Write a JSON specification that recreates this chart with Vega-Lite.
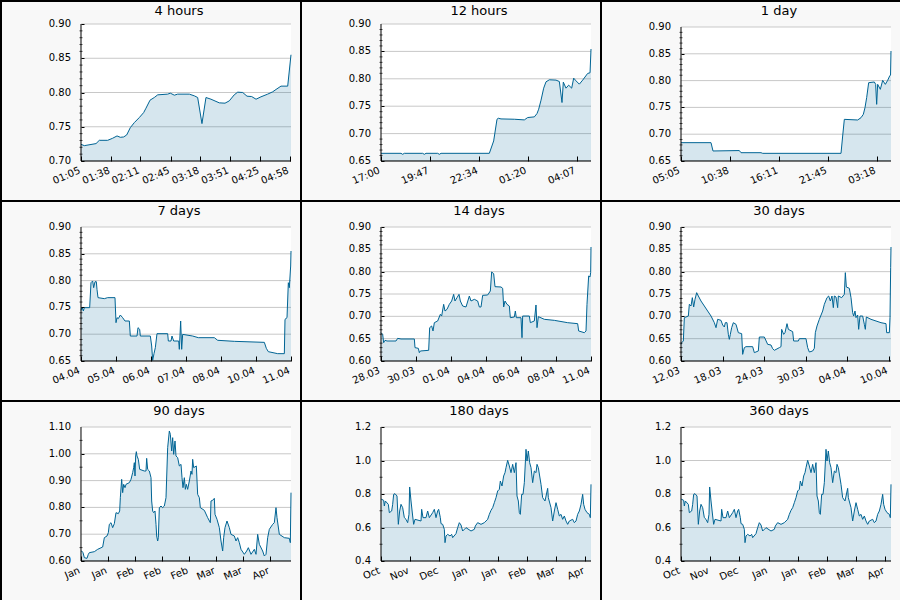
{
"$schema": "https://vega.github.io/schema/vega-lite/v6.json",
"background": "#f8f8f8",
"padding": 0,
"columns": 3,
"spacing": 0,
"bounds": "flush",
"config": {
  "font": "DejaVu Sans",
  "view": {"stroke": "black", "strokeWidth": 2, "fill": "#f8f8f8"},
  "axis": {"domain": false, "grid": false, "tickColor": "black", "tickWidth": 1, "labelFont": "DejaVu Sans", "labelFontSize": 10, "labelColor": "black", "labelOverlap": false, "labelFlush": false, "labelBound": false},
  "axisX": {"offset": -40, "tickSize": -5, "labelAngle": -23, "labelAlign": "right", "labelBaseline": "top", "labelPadding": 9},
  "axisY": {"offset": -80, "tickSize": -3, "labels": false},
  "tick": {"orient": "horizontal", "size": 3, "thickness": 1, "color": "black", "xOffset": 1.5},
  "text": {"align": "right", "baseline": "middle", "dx": -10, "fontSize": 10, "font": "DejaVu Sans", "color": "black"},
  "rule": {"stroke": "#c8c8c8"},
  "title": {"font": "DejaVu Sans", "fontSize": 13, "fontWeight": "normal", "color": "black", "anchor": "middle", "frame": "group", "offset": -17, "baseline": "alphabetic", "dx": 28}
},
"datasets": {
  "p1": [{"t":-240,"v":0.7244},{"t":-236.3,"v":0.7224},{"t":-223.2,"v":0.7254},{"t":-219.5,"v":0.7302},{"t":-210.2,"v":0.7302},{"t":-204.6,"v":0.7332},{"t":-199.7,"v":0.7366},{"t":-196.0,"v":0.7346},{"t":-192.3,"v":0.7351},{"t":-188.9,"v":0.738},{"t":-184.8,"v":0.7488},{"t":-180.3,"v":0.7561},{"t":-174.8,"v":0.7634},{"t":-169.9,"v":0.7707},{"t":-167.3,"v":0.7771},{"t":-162.8,"v":0.7888},{"t":-158.0,"v":0.7927},{"t":-154.2,"v":0.7966},{"t":-143.1,"v":0.7976},{"t":-140.1,"v":0.799},{"t":-135.6,"v":0.7961},{"t":-131.9,"v":0.7976},{"t":-118.8,"v":0.7976},{"t":-113.2,"v":0.7951},{"t":-109.5,"v":0.7927},{"t":-104.7,"v":0.7546},{"t":-100.2,"v":0.7927},{"t":-94.6,"v":0.7902},{"t":-85.3,"v":0.7849},{"t":-78.9,"v":0.7844},{"t":-74.1,"v":0.7878},{"t":-68.6,"v":0.7966},{"t":-64.7,"v":0.8005},{"t":-59.1,"v":0.8},{"t":-54.3,"v":0.7946},{"t":-49.1,"v":0.7941},{"t":-44.2,"v":0.7902},{"t":-38.7,"v":0.7937},{"t":-31.2,"v":0.7976},{"t":-25.6,"v":0.801},{"t":-21.9,"v":0.8044},{"t":-16.3,"v":0.8093},{"t":-8.8,"v":0.8093},{"t":-5.1,"v":0.8551}],
  "p2": [{"t":-724.5,"v":0.664},{"t":-656.3,"v":0.664},{"t":-650.6,"v":0.6622},{"t":-644.9,"v":0.664},{"t":-582.4,"v":0.664},{"t":-576.7,"v":0.6622},{"t":-571.0,"v":0.664},{"t":-531.2,"v":0.664},{"t":-525.5,"v":0.6622},{"t":-519.8,"v":0.664},{"t":-355.0,"v":0.664},{"t":-340.2,"v":0.6866},{"t":-328.8,"v":0.7262},{"t":-324.3,"v":0.728},{"t":-315.2,"v":0.7268},{"t":-269.7,"v":0.7262},{"t":-235.6,"v":0.725},{"t":-224.2,"v":0.7293},{"t":-201.5,"v":0.7305},{"t":-192.4,"v":0.7366},{"t":-186.7,"v":0.7445},{"t":-178.7,"v":0.761},{"t":-169.6,"v":0.7829},{"t":-161.7,"v":0.7945},{"t":-150.3,"v":0.7982},{"t":-127.6,"v":0.7976},{"t":-116.2,"v":0.7951},{"t":-107.1,"v":0.7567},{"t":-102.6,"v":0.7939},{"t":-93.5,"v":0.7829},{"t":-84.4,"v":0.7884},{"t":-74.1,"v":0.7829},{"t":-67.3,"v":0.8012},{"t":-59.4,"v":0.7963},{"t":-48.0,"v":0.7902},{"t":-36.6,"v":0.7976},{"t":-19.6,"v":0.8098},{"t":-11.5,"v":0.811},{"t":-8.2,"v":0.8543}],
  "p3": [{"t":-1440,"v":0.6842},{"t":-1235.7,"v":0.6842},{"t":-1222.1,"v":0.6687},{"t":-1042.8,"v":0.6695},{"t":-1031.4,"v":0.6655},{"t":-895.2,"v":0.6655},{"t":-883.8,"v":0.6643},{"t":-350.4,"v":0.6643},{"t":-339.1,"v":0.6966},{"t":-327.7,"v":0.7277},{"t":-236.9,"v":0.7265},{"t":-214.2,"v":0.7308},{"t":-198.3,"v":0.7371},{"t":-187.0,"v":0.7495},{"t":-175.6,"v":0.7682},{"t":-162.0,"v":0.7961},{"t":-123.4,"v":0.7974},{"t":-114.3,"v":0.793},{"t":-107.5,"v":0.7557},{"t":-100.7,"v":0.793},{"t":-82.5,"v":0.7837},{"t":-66.6,"v":0.8005},{"t":-48.5,"v":0.793},{"t":-32.6,"v":0.8005},{"t":-19.0,"v":0.8086},{"t":-13.0,"v":0.8104},{"t":-10,"v":0.8552}],
  "p4": [{"t":-7,"v":0.7445},{"t":-6.967,"v":0.7507},{"t":-6.922,"v":0.7433},{"t":-6.889,"v":0.7495},{"t":-6.711,"v":0.7495},{"t":-6.667,"v":0.7961},{"t":-6.611,"v":0.7993},{"t":-6.578,"v":0.7868},{"t":-6.533,"v":0.798},{"t":-6.489,"v":0.798},{"t":-6.467,"v":0.7837},{"t":-6.433,"v":0.7682},{"t":-6.222,"v":0.7663},{"t":-6.111,"v":0.7682},{"t":-5.867,"v":0.7682},{"t":-5.833,"v":0.7215},{"t":-5.8,"v":0.7308},{"t":-5.756,"v":0.729},{"t":-5.689,"v":0.7358},{"t":-5.611,"v":0.7308},{"t":-5.533,"v":0.7246},{"t":-5.389,"v":0.7246},{"t":-5.356,"v":0.6966},{"t":-5.133,"v":0.6966},{"t":-5.1,"v":0.7122},{"t":-5.044,"v":0.7091},{"t":-5.022,"v":0.6966},{"t":-4.689,"v":0.6966},{"t":-4.644,"v":0.678},{"t":-4.611,"v":0.6512},{"t":-4.567,"v":0.6637},{"t":-4.522,"v":0.6749},{"t":-4.467,"v":0.701},{"t":-4.111,"v":0.701},{"t":-4.089,"v":0.6873},{"t":-4.0,"v":0.6873},{"t":-3.967,"v":0.6966},{"t":-3.911,"v":0.6873},{"t":-3.744,"v":0.6873},{"t":-3.722,"v":0.6718},{"t":-3.678,"v":0.7246},{"t":-3.644,"v":0.6718},{"t":-3.611,"v":0.6997},{"t":-3.278,"v":0.6966},{"t":-3.089,"v":0.6935},{"t":-2.556,"v":0.6935},{"t":-2.444,"v":0.6886},{"t":-1.889,"v":0.6867},{"t":-0.889,"v":0.6848},{"t":-0.822,"v":0.6736},{"t":-0.756,"v":0.6674},{"t":-0.444,"v":0.6637},{"t":-0.222,"v":0.6637},{"t":-0.2,"v":0.7277},{"t":-0.133,"v":0.7308},{"t":-0.089,"v":0.7961},{"t":-0.056,"v":0.7868},{"t":-0.011,"v":0.8272},{"t":0,"v":0.8552}],
  "p5": [{"t":-14,"v":0.6634},{"t":-13.889,"v":0.6597},{"t":-13.822,"v":0.641},{"t":-13.733,"v":0.6463},{"t":-13.6,"v":0.6448},{"t":-13.0,"v":0.6448},{"t":-12.889,"v":0.6507},{"t":-12.667,"v":0.6493},{"t":-11.778,"v":0.6493},{"t":-11.733,"v":0.6299},{"t":-11.511,"v":0.6284},{"t":-11.444,"v":0.6187},{"t":-11.378,"v":0.6224},{"t":-10.822,"v":0.6239},{"t":-10.756,"v":0.6746},{"t":-10.622,"v":0.6784},{"t":-10.533,"v":0.6672},{"t":-10.444,"v":0.6858},{"t":-10.222,"v":0.6896},{"t":-10.044,"v":0.7045},{"t":-9.956,"v":0.7007},{"t":-9.822,"v":0.7269},{"t":-9.733,"v":0.7119},{"t":-9.6,"v":0.7157},{"t":-9.444,"v":0.7269},{"t":-9.289,"v":0.7343},{"t":-9.156,"v":0.7493},{"t":-9.067,"v":0.7343},{"t":-8.933,"v":0.7418},{"t":-8.8,"v":0.7493},{"t":-8.711,"v":0.7343},{"t":-8.556,"v":0.7231},{"t":-8.333,"v":0.7209},{"t":-8.111,"v":0.7455},{"t":-8.0,"v":0.7343},{"t":-7.778,"v":0.7381},{"t":-7.556,"v":0.7343},{"t":-7.444,"v":0.7209},{"t":-7.333,"v":0.7209},{"t":-7.222,"v":0.747},{"t":-6.889,"v":0.7478},{"t":-6.711,"v":0.7567},{"t":-6.622,"v":0.7993},{"t":-6.489,"v":0.7955},{"t":-6.4,"v":0.7664},{"t":-6.0,"v":0.7657},{"t":-5.889,"v":0.7627},{"t":-5.822,"v":0.7209},{"t":-5.733,"v":0.7343},{"t":-5.6,"v":0.7269},{"t":-5.444,"v":0.7231},{"t":-5.378,"v":0.697},{"t":-5.111,"v":0.6985},{"t":-5.044,"v":0.7119},{"t":-4.978,"v":0.697},{"t":-4.667,"v":0.697},{"t":-4.6,"v":0.6522},{"t":-4.556,"v":0.7007},{"t":-4.111,"v":0.7007},{"t":-4.044,"v":0.6858},{"t":-3.778,"v":0.6896},{"t":-3.667,"v":0.7254},{"t":-3.6,"v":0.6746},{"t":-3.511,"v":0.6993},{"t":-3.111,"v":0.6933},{"t":-2.444,"v":0.691},{"t":-1.556,"v":0.6858},{"t":-0.889,"v":0.6836},{"t":-0.822,"v":0.6672},{"t":-0.444,"v":0.6634},{"t":-0.333,"v":0.6672},{"t":-0.267,"v":0.7269},{"t":-0.156,"v":0.7903},{"t":-0.067,"v":0.7881},{"t":-0.022,"v":0.7978},{"t":0,"v":0.8552}],
  "p6": [{"t":-30,"v":0.6373},{"t":-29.905,"v":0.641},{"t":-29.667,"v":0.6448},{"t":-29.524,"v":0.697},{"t":-28.952,"v":0.7007},{"t":-28.81,"v":0.7269},{"t":-28.571,"v":0.7231},{"t":-28.381,"v":0.7418},{"t":-28.19,"v":0.7209},{"t":-28.0,"v":0.7381},{"t":-27.762,"v":0.753},{"t":-27.524,"v":0.7455},{"t":-27.143,"v":0.7343},{"t":-26.667,"v":0.7231},{"t":-26.19,"v":0.7119},{"t":-25.714,"v":0.7007},{"t":-25.238,"v":0.6858},{"t":-25.0,"v":0.6746},{"t":-24.762,"v":0.6933},{"t":-24.286,"v":0.691},{"t":-24.048,"v":0.6806},{"t":-23.81,"v":0.6761},{"t":-23.667,"v":0.6858},{"t":-23.429,"v":0.6858},{"t":-23.238,"v":0.6597},{"t":-23.095,"v":0.6485},{"t":-22.952,"v":0.6597},{"t":-22.762,"v":0.6746},{"t":-22.524,"v":0.6858},{"t":-22.143,"v":0.6821},{"t":-21.81,"v":0.6634},{"t":-21.333,"v":0.6612},{"t":-21.19,"v":0.6149},{"t":-20.952,"v":0.6299},{"t":-20.714,"v":0.6321},{"t":-19.762,"v":0.6321},{"t":-19.524,"v":0.6187},{"t":-18.952,"v":0.6224},{"t":-18.81,"v":0.6537},{"t":-18.095,"v":0.6537},{"t":-17.619,"v":0.6373},{"t":-17.143,"v":0.6358},{"t":-16.905,"v":0.6276},{"t":-16.667,"v":0.6239},{"t":-15.952,"v":0.6299},{"t":-15.714,"v":0.6321},{"t":-15.619,"v":0.6709},{"t":-15.333,"v":0.6597},{"t":-15.143,"v":0.6634},{"t":-14.857,"v":0.6836},{"t":-14.667,"v":0.6709},{"t":-14.048,"v":0.6657},{"t":-13.905,"v":0.6448},{"t":-13.238,"v":0.6448},{"t":-13.095,"v":0.65},{"t":-12.143,"v":0.65},{"t":-11.905,"v":0.6299},{"t":-11.667,"v":0.6201},{"t":-11.19,"v":0.6224},{"t":-10.952,"v":0.6284},{"t":-10.81,"v":0.6634},{"t":-10.571,"v":0.6784},{"t":-10.238,"v":0.6933},{"t":-9.762,"v":0.7119},{"t":-9.524,"v":0.7269},{"t":-9.143,"v":0.7418},{"t":-8.905,"v":0.7455},{"t":-8.667,"v":0.7343},{"t":-8.429,"v":0.7455},{"t":-8.238,"v":0.7194},{"t":-8.095,"v":0.7455},{"t":-7.857,"v":0.7433},{"t":-7.619,"v":0.7194},{"t":-7.524,"v":0.7455},{"t":-7.048,"v":0.7418},{"t":-6.667,"v":0.7493},{"t":-6.524,"v":0.7978},{"t":-6.381,"v":0.7657},{"t":-5.952,"v":0.7627},{"t":-5.714,"v":0.7418},{"t":-5.476,"v":0.7082},{"t":-5.333,"v":0.7007},{"t":-5.143,"v":0.7119},{"t":-5.0,"v":0.697},{"t":-4.762,"v":0.703},{"t":-4.619,"v":0.6709},{"t":-4.429,"v":0.7007},{"t":-4.048,"v":0.7007},{"t":-3.81,"v":0.6821},{"t":-3.667,"v":0.6709},{"t":-3.524,"v":0.6985},{"t":-2.857,"v":0.6933},{"t":-1.429,"v":0.6858},{"t":-0.714,"v":0.6836},{"t":-0.619,"v":0.6634},{"t":-0.238,"v":0.6634},{"t":-0.143,"v":0.697},{"t":-0.048,"v":0.809},{"t":0,"v":0.8552}],
  "p7": [{"t":-90,"v":0.6373},{"t":-89.714,"v":0.6373},{"t":-89.143,"v":0.6311},{"t":-88.571,"v":0.6124},{"t":-87.429,"v":0.6099},{"t":-86.857,"v":0.6249},{"t":-86.429,"v":0.6311},{"t":-84.286,"v":0.6348},{"t":-82.857,"v":0.6435},{"t":-80.714,"v":0.6522},{"t":-80.0,"v":0.6871},{"t":-78.857,"v":0.6933},{"t":-78.286,"v":0.7057},{"t":-77.857,"v":0.7368},{"t":-77.143,"v":0.743},{"t":-76.429,"v":0.7244},{"t":-75.714,"v":0.7393},{"t":-75.0,"v":0.7803},{"t":-74.0,"v":0.7766},{"t":-73.429,"v":0.7866},{"t":-73.143,"v":0.8363},{"t":-72.571,"v":0.9047},{"t":-72.143,"v":0.855},{"t":-71.714,"v":0.8861},{"t":-71.143,"v":0.8736},{"t":-70.714,"v":0.8861},{"t":-69.286,"v":0.8923},{"t":-68.571,"v":0.9047},{"t":-67.857,"v":0.9296},{"t":-67.429,"v":0.9483},{"t":-67.143,"v":0.9669},{"t":-66.857,"v":0.9172},{"t":-66.571,"v":0.9918},{"t":-66.286,"v":1.008},{"t":-66.0,"v":0.9918},{"t":-65.429,"v":0.9794},{"t":-64.857,"v":0.942},{"t":-62.857,"v":0.9358},{"t":-62.143,"v":0.9358},{"t":-61.857,"v":0.9831},{"t":-61.429,"v":0.942},{"t":-60.714,"v":0.9358},{"t":-60.0,"v":0.9109},{"t":-59.714,"v":0.8239},{"t":-59.286,"v":0.7866},{"t":-58.857,"v":0.7803},{"t":-58.286,"v":0.7866},{"t":-57.857,"v":0.7368},{"t":-57.571,"v":0.6933},{"t":-57.143,"v":0.6746},{"t":-56.857,"v":0.6871},{"t":-56.429,"v":0.799},{"t":-55.714,"v":0.8052},{"t":-55.0,"v":0.799},{"t":-54.286,"v":0.8052},{"t":-53.571,"v":0.8363},{"t":-52.857,"v":1.0229},{"t":-52.143,"v":1.0851},{"t":-51.714,"v":1.0726},{"t":-51.143,"v":1.0104},{"t":-50.714,"v":1.0602},{"t":-50.286,"v":0.998},{"t":-49.714,"v":1.0478},{"t":-49.286,"v":0.9918},{"t":-48.571,"v":0.9856},{"t":-47.857,"v":0.9545},{"t":-47.143,"v":0.9607},{"t":-46.714,"v":0.9109},{"t":-46.286,"v":0.8736},{"t":-45.714,"v":0.9109},{"t":-45.286,"v":0.8674},{"t":-44.857,"v":0.8861},{"t":-44.286,"v":0.8674},{"t":-43.571,"v":0.8985},{"t":-42.857,"v":0.9358},{"t":-42.429,"v":0.9234},{"t":-42.143,"v":0.9794},{"t":-41.714,"v":0.9483},{"t":-40.571,"v":0.9545},{"t":-40.0,"v":0.8487},{"t":-39.286,"v":0.8363},{"t":-38.857,"v":0.799},{"t":-37.143,"v":0.7891},{"t":-35.714,"v":0.7617},{"t":-34.571,"v":0.743},{"t":-34.286,"v":0.8239},{"t":-33.571,"v":0.8264},{"t":-32.857,"v":0.8338},{"t":-32.571,"v":0.7741},{"t":-31.714,"v":0.7555},{"t":-30.714,"v":0.7244},{"t":-30.0,"v":0.6746},{"t":-29.286,"v":0.6373},{"t":-28.857,"v":0.6871},{"t":-28.286,"v":0.7244},{"t":-27.429,"v":0.7492},{"t":-26.429,"v":0.7244},{"t":-25.714,"v":0.6995},{"t":-24.286,"v":0.6933},{"t":-23.571,"v":0.6746},{"t":-22.857,"v":0.6871},{"t":-22.143,"v":0.6684},{"t":-21.429,"v":0.6435},{"t":-20.0,"v":0.6249},{"t":-19.0,"v":0.6373},{"t":-18.286,"v":0.6497},{"t":-17.143,"v":0.6249},{"t":-15.714,"v":0.6435},{"t":-15.0,"v":0.6249},{"t":-14.286,"v":0.6995},{"t":-13.571,"v":0.6622},{"t":-12.143,"v":0.6373},{"t":-11.429,"v":0.6187},{"t":-10.714,"v":0.6249},{"t":-10.0,"v":0.6871},{"t":-9.286,"v":0.7182},{"t":-7.857,"v":0.7368},{"t":-7.143,"v":0.743},{"t":-6.429,"v":0.799},{"t":-6.0,"v":0.7617},{"t":-5.0,"v":0.6995},{"t":-2.857,"v":0.6871},{"t":-0.714,"v":0.6846},{"t":-0.286,"v":0.6684},{"t":0,"v":0.855}],
  "p8": [{"t":-165.9,"v":0.7682},{"t":-165.37,"v":0.7682},{"t":-163.79,"v":0.7622},{"t":-163.27,"v":0.7284},{"t":-162.48,"v":0.7582},{"t":-160.11,"v":0.7383},{"t":-159.32,"v":0.6886},{"t":-157.47,"v":0.6985},{"t":-156.68,"v":0.7383},{"t":-155.89,"v":0.798},{"t":-154.84,"v":0.802},{"t":-153.26,"v":0.7881},{"t":-152.21,"v":0.6189},{"t":-151.15,"v":0.6985},{"t":-150.1,"v":0.7383},{"t":-148.78,"v":0.7184},{"t":-147.47,"v":0.6587},{"t":-146.15,"v":0.6488},{"t":-144.83,"v":0.6289},{"t":-143.78,"v":0.6786},{"t":-143.25,"v":0.8418},{"t":-142.2,"v":0.7582},{"t":-140.88,"v":0.6687},{"t":-140.09,"v":0.6189},{"t":-139.04,"v":0.6488},{"t":-134.3,"v":0.6388},{"t":-133.77,"v":0.7085},{"t":-132.72,"v":0.6587},{"t":-130.35,"v":0.6587},{"t":-129.03,"v":0.6985},{"t":-127.71,"v":0.6587},{"t":-125.08,"v":0.6886},{"t":-123.76,"v":0.7085},{"t":-122.45,"v":0.6587},{"t":-121.13,"v":0.6985},{"t":-120.34,"v":0.7085},{"t":-119.03,"v":0.6587},{"t":-118.5,"v":0.6229},{"t":-117.18,"v":0.6189},{"t":-115.87,"v":0.5891},{"t":-115.34,"v":0.5095},{"t":-114.55,"v":0.5493},{"t":-113.23,"v":0.5592},{"t":-111.39,"v":0.5493},{"t":-110.07,"v":0.5592},{"t":-109.28,"v":0.5393},{"t":-106.65,"v":0.5632},{"t":-105.33,"v":0.599},{"t":-104.02,"v":0.6289},{"t":-102.7,"v":0.6149},{"t":-101.38,"v":0.5791},{"t":-98.75,"v":0.599},{"t":-94.8,"v":0.5791},{"t":-92.17,"v":0.5891},{"t":-91.38,"v":0.609},{"t":-89.54,"v":0.6289},{"t":-86.9,"v":0.6189},{"t":-84.27,"v":0.6289},{"t":-81.63,"v":0.6488},{"t":-80.32,"v":0.6786},{"t":-79.0,"v":0.7025},{"t":-77.68,"v":0.7184},{"t":-76.37,"v":0.7483},{"t":-75.05,"v":0.7781},{"t":-73.73,"v":0.8179},{"t":-72.42,"v":0.8279},{"t":-71.63,"v":0.8776},{"t":-70.31,"v":0.8478},{"t":-69.0,"v":0.9075},{"t":-67.94,"v":0.9274},{"t":-67.15,"v":0.9572},{"t":-65.84,"v":1.001},{"t":-64.52,"v":0.9672},{"t":-63.2,"v":0.9274},{"t":-61.89,"v":0.9771},{"t":-60.57,"v":0.9274},{"t":-59.25,"v":0.9871},{"t":-58.46,"v":0.7881},{"t":-57.41,"v":0.7582},{"t":-56.62,"v":0.6886},{"t":-55.83,"v":0.6786},{"t":-54.77,"v":0.798},{"t":-53.72,"v":0.798},{"t":-52.67,"v":0.8677},{"t":-51.35,"v":1.0667},{"t":-50.56,"v":0.997},{"t":-49.51,"v":1.0567},{"t":-48.46,"v":0.9871},{"t":-47.4,"v":0.9572},{"t":-46.09,"v":0.8677},{"t":-44.77,"v":0.9373},{"t":-43.45,"v":0.9274},{"t":-42.66,"v":0.9771},{"t":-41.61,"v":0.9572},{"t":-40.56,"v":0.9075},{"t":-39.5,"v":0.8577},{"t":-38.18,"v":0.7781},{"t":-36.34,"v":0.7582},{"t":-34.23,"v":0.8338},{"t":-33.71,"v":0.7781},{"t":-31.6,"v":0.7184},{"t":-30.29,"v":0.6388},{"t":-28.97,"v":0.6985},{"t":-27.65,"v":0.7483},{"t":-26.34,"v":0.7085},{"t":-25.02,"v":0.6687},{"t":-23.7,"v":0.6786},{"t":-22.39,"v":0.6488},{"t":-21.07,"v":0.6687},{"t":-19.75,"v":0.6388},{"t":-18.43,"v":0.6189},{"t":-17.12,"v":0.6388},{"t":-14.48,"v":0.6488},{"t":-13.17,"v":0.6289},{"t":-11.85,"v":0.6388},{"t":-10.53,"v":0.6786},{"t":-9.22,"v":0.6985},{"t":-7.9,"v":0.7383},{"t":-6.58,"v":0.798},{"t":-5.79,"v":0.7383},{"t":-4.74,"v":0.7085},{"t":-3.16,"v":0.6886},{"t":-1.32,"v":0.6786},{"t":-0.53,"v":0.6587},{"t":0,"v":0.8577}],
  "y1": [{"g":0.7},{"g":0.75},{"g":0.8},{"g":0.85},{"g":0.9}],
  "y2": [{"g":0.65},{"g":0.7},{"g":0.75},{"g":0.8},{"g":0.85},{"g":0.9}],
  "y3": [{"g":0.6},{"g":0.65},{"g":0.7},{"g":0.75},{"g":0.8},{"g":0.85},{"g":0.9}],
  "y4": [{"g":0.6},{"g":0.7},{"g":0.8},{"g":0.9},{"g":1.0},{"g":1.1}],
  "y5": [{"g":0.4},{"g":0.6},{"g":0.8},{"g":1.0},{"g":1.2}],
  "m1": [{"m":0.71},{"m":0.72},{"m":0.73},{"m":0.74},{"m":0.76},{"m":0.77},{"m":0.78},{"m":0.79},{"m":0.81},{"m":0.82},{"m":0.83},{"m":0.84},{"m":0.86},{"m":0.87},{"m":0.88},{"m":0.89}],
  "m2": [{"m":0.66},{"m":0.67},{"m":0.68},{"m":0.69},{"m":0.71},{"m":0.72},{"m":0.73},{"m":0.74},{"m":0.76},{"m":0.77},{"m":0.78},{"m":0.79},{"m":0.81},{"m":0.82},{"m":0.83},{"m":0.84},{"m":0.86},{"m":0.87},{"m":0.88},{"m":0.89}],
  "m3": [{"m":0.61},{"m":0.62},{"m":0.63},{"m":0.64},{"m":0.66},{"m":0.67},{"m":0.68},{"m":0.69},{"m":0.71},{"m":0.72},{"m":0.73},{"m":0.74},{"m":0.76},{"m":0.77},{"m":0.78},{"m":0.79},{"m":0.81},{"m":0.82},{"m":0.83},{"m":0.84},{"m":0.86},{"m":0.87},{"m":0.88},{"m":0.89}],
  "m4": [{"m":0.65},{"m":0.75},{"m":0.85},{"m":0.95},{"m":1.05}],
  "m5": [{"m":0.5},{"m":0.7},{"m":0.9},{"m":1.1}]
},
"concat": [
{
 "title": {"text": "4 hours"},
 "width": 300, "height": 200,
 "layer": [
  {"data": {"values": [{}]}, "mark": {"type": "rect", "fill": "white"},
   "encoding": {"x": {"datum": -240, "type": "quantitative"}, "x2": {"datum": -5.1}, "y": {"datum": 0.7, "type": "quantitative"}, "y2": {"datum": 0.9}}},
  {"data": {"name": "y1"}, "mark": {"type": "rule"},
   "encoding": {"y": {"field": "g", "type": "quantitative"}, "x": {"datum": -240, "type": "quantitative"}, "x2": {"datum": -5.1}}},
  {"data": {"name": "p1"}, "mark": {"type": "area", "fill": "#006494", "fillOpacity": 0.16},
   "encoding": {
    "x": {"field": "t", "type": "quantitative", "scale": {"domain": [-329.49, 6.09], "nice": false, "zero": false},
          "axis": {"title": null, "zindex": 1, "labelOverlap": false, "labelFlush": false, "labelOffset": -4, "values": [-239.5, -206.5, -173.5, -139.5, -106.5, -73.5, -39.5, -6.5], "labelExpr": "utcFormat(utc(2014,3,11,5,5)+datum.value*60000,'%H:%M')"}},
    "y": {"field": "v", "type": "quantitative", "scale": {"domain": [0.641606, 0.933577], "nice": false, "zero": false},
          "axis": {"title": null, "zindex": 1, "labels": false, "values": [0.7, 0.75, 0.8, 0.85, 0.9]}},
    "y2": {"datum": 0.7}}},
  {"data": {"name": "p1"}, "mark": {"type": "line", "stroke": "#006494", "strokeWidth": 1},
   "encoding": {"x": {"field": "t", "type": "quantitative"}, "y": {"field": "v", "type": "quantitative"}}},
  {"data": {"values": [{}]}, "mark": {"type": "rule", "stroke": "black"},
   "encoding": {"x": {"datum": -240, "type": "quantitative"}, "y": {"datum": 0.7, "type": "quantitative"}, "y2": {"datum": 0.9}}},
  {"data": {"values": [{}]}, "mark": {"type": "rule", "stroke": "black"},
   "encoding": {"y": {"datum": 0.7, "type": "quantitative"}, "x": {"datum": -240, "type": "quantitative"}, "x2": {"datum": -5.1}}},
  {"data": {"name": "m1"}, "mark": {"type": "tick"},
   "encoding": {"y": {"field": "m", "type": "quantitative"}, "x": {"datum": -240, "type": "quantitative"}}},
  {"data": {"name": "y1"}, "mark": {"type": "text"},
   "encoding": {"y": {"field": "g", "type": "quantitative"}, "x": {"datum": -240, "type": "quantitative"}, "text": {"field": "g", "type": "quantitative", "format": ".2f"}}}
 ]
},
{
 "title": {"text": "12 hours"},
 "width": 300, "height": 200,
 "layer": [
  {"data": {"values": [{}]}, "mark": {"type": "rect", "fill": "white"},
   "encoding": {"x": {"datum": -724.5, "type": "quantitative"}, "x2": {"datum": -8.2}, "y": {"datum": 0.65, "type": "quantitative"}, "y2": {"datum": 0.9}}},
  {"data": {"name": "y2"}, "mark": {"type": "rule"},
   "encoding": {"y": {"field": "g", "type": "quantitative"}, "x": {"datum": -724.5, "type": "quantitative"}, "x2": {"datum": -8.2}}},
  {"data": {"name": "p2"}, "mark": {"type": "area", "fill": "#006494", "fillOpacity": 0.16},
   "encoding": {
    "x": {"field": "t", "type": "quantitative", "scale": {"domain": [-997.4, 25.9], "nice": false, "zero": false},
          "axis": {"title": null, "zindex": 1, "labelOverlap": false, "labelFlush": false, "labelOffset": -4, "values": [-724.5, -557.5, -390.5, -224.5, -57.5], "labelExpr": "utcFormat(utc(2014,3,11,5,5)+datum.value*60000,'%H:%M')"}},
    "y": {"field": "v", "type": "quantitative", "scale": {"domain": [0.577007, 0.941971], "nice": false, "zero": false},
          "axis": {"title": null, "zindex": 1, "labels": false, "values": [0.65, 0.7, 0.75, 0.8, 0.85, 0.9]}},
    "y2": {"datum": 0.65}}},
  {"data": {"name": "p2"}, "mark": {"type": "line", "stroke": "#006494", "strokeWidth": 1},
   "encoding": {"x": {"field": "t", "type": "quantitative"}, "y": {"field": "v", "type": "quantitative"}}},
  {"data": {"values": [{}]}, "mark": {"type": "rule", "stroke": "black"},
   "encoding": {"x": {"datum": -724.5, "type": "quantitative"}, "y": {"datum": 0.65, "type": "quantitative"}, "y2": {"datum": 0.9}}},
  {"data": {"values": [{}]}, "mark": {"type": "rule", "stroke": "black"},
   "encoding": {"y": {"datum": 0.65, "type": "quantitative"}, "x": {"datum": -724.5, "type": "quantitative"}, "x2": {"datum": -8.2}}},
  {"data": {"name": "m2"}, "mark": {"type": "tick"},
   "encoding": {"y": {"field": "m", "type": "quantitative"}, "x": {"datum": -724.5, "type": "quantitative"}}},
  {"data": {"name": "y2"}, "mark": {"type": "text"},
   "encoding": {"y": {"field": "g", "type": "quantitative"}, "x": {"datum": -724.5, "type": "quantitative"}, "text": {"field": "g", "type": "quantitative", "format": ".2f"}}}
 ]
},
{
 "title": {"text": "1 day"},
 "width": 300, "height": 200,
 "layer": [
  {"data": {"values": [{}]}, "mark": {"type": "rect", "fill": "white"},
   "encoding": {"x": {"datum": -1440, "type": "quantitative"}, "x2": {"datum": -10}, "y": {"datum": 0.65, "type": "quantitative"}, "y2": {"datum": 0.9}}},
  {"data": {"name": "y2"}, "mark": {"type": "rule"},
   "encoding": {"y": {"field": "g", "type": "quantitative"}, "x": {"datum": -1440, "type": "quantitative"}, "x2": {"datum": -10}}},
  {"data": {"name": "p3"}, "mark": {"type": "area", "fill": "#006494", "fillOpacity": 0.16},
   "encoding": {
    "x": {"field": "t", "type": "quantitative", "scale": {"domain": [-1984.8, 58.2], "nice": false, "zero": false},
          "axis": {"title": null, "zindex": 1, "labelOverlap": false, "labelFlush": false, "labelOffset": -4, "values": [-1439.5, -1106.5, -773.5, -439.5, -106.5], "labelExpr": "utcFormat(utc(2014,3,11,5,5)+datum.value*60000,'%H:%M')"}},
    "y": {"field": "v", "type": "quantitative", "scale": {"domain": [0.575373, 0.948507], "nice": false, "zero": false},
          "axis": {"title": null, "zindex": 1, "labels": false, "values": [0.65, 0.7, 0.75, 0.8, 0.85, 0.9]}},
    "y2": {"datum": 0.65}}},
  {"data": {"name": "p3"}, "mark": {"type": "line", "stroke": "#006494", "strokeWidth": 1},
   "encoding": {"x": {"field": "t", "type": "quantitative"}, "y": {"field": "v", "type": "quantitative"}}},
  {"data": {"values": [{}]}, "mark": {"type": "rule", "stroke": "black"},
   "encoding": {"x": {"datum": -1440, "type": "quantitative"}, "y": {"datum": 0.65, "type": "quantitative"}, "y2": {"datum": 0.9}}},
  {"data": {"values": [{}]}, "mark": {"type": "rule", "stroke": "black"},
   "encoding": {"y": {"datum": 0.65, "type": "quantitative"}, "x": {"datum": -1440, "type": "quantitative"}, "x2": {"datum": -10}}},
  {"data": {"name": "m2"}, "mark": {"type": "tick"},
   "encoding": {"y": {"field": "m", "type": "quantitative"}, "x": {"datum": -1440, "type": "quantitative"}}},
  {"data": {"name": "y2"}, "mark": {"type": "text"},
   "encoding": {"y": {"field": "g", "type": "quantitative"}, "x": {"datum": -1440, "type": "quantitative"}, "text": {"field": "g", "type": "quantitative", "format": ".2f"}}}
 ]
},
{
 "title": {"text": "7 days"},
 "width": 300, "height": 200,
 "layer": [
  {"data": {"values": [{}]}, "mark": {"type": "rect", "fill": "white"},
   "encoding": {"x": {"datum": -7, "type": "quantitative"}, "x2": {"datum": 0}, "y": {"datum": 0.65, "type": "quantitative"}, "y2": {"datum": 0.9}}},
  {"data": {"name": "y2"}, "mark": {"type": "rule"},
   "encoding": {"y": {"field": "g", "type": "quantitative"}, "x": {"datum": -7, "type": "quantitative"}, "x2": {"datum": 0}}},
  {"data": {"name": "p4"}, "mark": {"type": "area", "fill": "#006494", "fillOpacity": 0.16},
   "encoding": {
    "x": {"field": "t", "type": "quantitative", "scale": {"domain": [-9.6667, 0.3333], "nice": false, "zero": false},
          "axis": {"title": null, "zindex": 1, "labelOverlap": false, "labelFlush": false, "labelOffset": -4, "values": [-7, -5.8333, -4.6667, -3.5, -2.3333, -1.1667, 0], "labelExpr": "utcFormat(utc(2014,3,11,5,5)+datum.value*86400000,'%d.%m')"}},
    "y": {"field": "v", "type": "quantitative", "scale": {"domain": [0.575373, 0.948507], "nice": false, "zero": false},
          "axis": {"title": null, "zindex": 1, "labels": false, "values": [0.65, 0.7, 0.75, 0.8, 0.85, 0.9]}},
    "y2": {"datum": 0.65}}},
  {"data": {"name": "p4"}, "mark": {"type": "line", "stroke": "#006494", "strokeWidth": 1},
   "encoding": {"x": {"field": "t", "type": "quantitative"}, "y": {"field": "v", "type": "quantitative"}}},
  {"data": {"values": [{}]}, "mark": {"type": "rule", "stroke": "black"},
   "encoding": {"x": {"datum": -7, "type": "quantitative"}, "y": {"datum": 0.65, "type": "quantitative"}, "y2": {"datum": 0.9}}},
  {"data": {"values": [{}]}, "mark": {"type": "rule", "stroke": "black"},
   "encoding": {"y": {"datum": 0.65, "type": "quantitative"}, "x": {"datum": -7, "type": "quantitative"}, "x2": {"datum": 0}}},
  {"data": {"name": "m2"}, "mark": {"type": "tick"},
   "encoding": {"y": {"field": "m", "type": "quantitative"}, "x": {"datum": -7, "type": "quantitative"}}},
  {"data": {"name": "y2"}, "mark": {"type": "text"},
   "encoding": {"y": {"field": "g", "type": "quantitative"}, "x": {"datum": -7, "type": "quantitative"}, "text": {"field": "g", "type": "quantitative", "format": ".2f"}}}
 ]
},
{
 "title": {"text": "14 days"},
 "width": 300, "height": 200,
 "layer": [
  {"data": {"values": [{}]}, "mark": {"type": "rect", "fill": "white"},
   "encoding": {"x": {"datum": -14, "type": "quantitative"}, "x2": {"datum": 0}, "y": {"datum": 0.6, "type": "quantitative"}, "y2": {"datum": 0.9}}},
  {"data": {"name": "y3"}, "mark": {"type": "rule"},
   "encoding": {"y": {"field": "g", "type": "quantitative"}, "x": {"datum": -14, "type": "quantitative"}, "x2": {"datum": 0}}},
  {"data": {"name": "p5"}, "mark": {"type": "area", "fill": "#006494", "fillOpacity": 0.16},
   "encoding": {
    "x": {"field": "t", "type": "quantitative", "scale": {"domain": [-19.3333, 0.6667], "nice": false, "zero": false},
          "axis": {"title": null, "zindex": 1, "labelOverlap": false, "labelFlush": false, "labelOffset": -4, "values": [-14, -11.6667, -9.3333, -7, -4.6667, -2.3333, 0], "labelExpr": "utcFormat(utc(2014,3,11,5,5)+datum.value*86400000,'%d.%m')"}},
    "y": {"field": "v", "type": "quantitative", "scale": {"domain": [0.510448, 0.958209], "nice": false, "zero": false},
          "axis": {"title": null, "zindex": 1, "labels": false, "values": [0.6, 0.65, 0.7, 0.75, 0.8, 0.85, 0.9]}},
    "y2": {"datum": 0.6}}},
  {"data": {"name": "p5"}, "mark": {"type": "line", "stroke": "#006494", "strokeWidth": 1},
   "encoding": {"x": {"field": "t", "type": "quantitative"}, "y": {"field": "v", "type": "quantitative"}}},
  {"data": {"values": [{}]}, "mark": {"type": "rule", "stroke": "black"},
   "encoding": {"x": {"datum": -14, "type": "quantitative"}, "y": {"datum": 0.6, "type": "quantitative"}, "y2": {"datum": 0.9}}},
  {"data": {"values": [{}]}, "mark": {"type": "rule", "stroke": "black"},
   "encoding": {"y": {"datum": 0.6, "type": "quantitative"}, "x": {"datum": -14, "type": "quantitative"}, "x2": {"datum": 0}}},
  {"data": {"name": "m3"}, "mark": {"type": "tick"},
   "encoding": {"y": {"field": "m", "type": "quantitative"}, "x": {"datum": -14, "type": "quantitative"}}},
  {"data": {"name": "y3"}, "mark": {"type": "text"},
   "encoding": {"y": {"field": "g", "type": "quantitative"}, "x": {"datum": -14, "type": "quantitative"}, "text": {"field": "g", "type": "quantitative", "format": ".2f"}}}
 ]
},
{
 "title": {"text": "30 days"},
 "width": 300, "height": 200,
 "layer": [
  {"data": {"values": [{}]}, "mark": {"type": "rect", "fill": "white"},
   "encoding": {"x": {"datum": -30, "type": "quantitative"}, "x2": {"datum": 0}, "y": {"datum": 0.6, "type": "quantitative"}, "y2": {"datum": 0.9}}},
  {"data": {"name": "y3"}, "mark": {"type": "rule"},
   "encoding": {"y": {"field": "g", "type": "quantitative"}, "x": {"datum": -30, "type": "quantitative"}, "x2": {"datum": 0}}},
  {"data": {"name": "p6"}, "mark": {"type": "area", "fill": "#006494", "fillOpacity": 0.16},
   "encoding": {
    "x": {"field": "t", "type": "quantitative", "scale": {"domain": [-41.4286, 1.4286], "nice": false, "zero": false},
          "axis": {"title": null, "zindex": 1, "labelOverlap": false, "labelFlush": false, "labelOffset": -4, "values": [-30, -24.0625, -18.125, -12.1875, -6.25, -0.3125], "labelExpr": "utcFormat(utc(2014,3,11,5,5)+datum.value*86400000,'%d.%m')"}},
    "y": {"field": "v", "type": "quantitative", "scale": {"domain": [0.510448, 0.958209], "nice": false, "zero": false},
          "axis": {"title": null, "zindex": 1, "labels": false, "values": [0.6, 0.65, 0.7, 0.75, 0.8, 0.85, 0.9]}},
    "y2": {"datum": 0.6}}},
  {"data": {"name": "p6"}, "mark": {"type": "line", "stroke": "#006494", "strokeWidth": 1},
   "encoding": {"x": {"field": "t", "type": "quantitative"}, "y": {"field": "v", "type": "quantitative"}}},
  {"data": {"values": [{}]}, "mark": {"type": "rule", "stroke": "black"},
   "encoding": {"x": {"datum": -30, "type": "quantitative"}, "y": {"datum": 0.6, "type": "quantitative"}, "y2": {"datum": 0.9}}},
  {"data": {"values": [{}]}, "mark": {"type": "rule", "stroke": "black"},
   "encoding": {"y": {"datum": 0.6, "type": "quantitative"}, "x": {"datum": -30, "type": "quantitative"}, "x2": {"datum": 0}}},
  {"data": {"name": "m3"}, "mark": {"type": "tick"},
   "encoding": {"y": {"field": "m", "type": "quantitative"}, "x": {"datum": -30, "type": "quantitative"}}},
  {"data": {"name": "y3"}, "mark": {"type": "text"},
   "encoding": {"y": {"field": "g", "type": "quantitative"}, "x": {"datum": -30, "type": "quantitative"}, "text": {"field": "g", "type": "quantitative", "format": ".2f"}}}
 ]
},
{
 "title": {"text": "90 days"},
 "width": 300, "height": 200,
 "layer": [
  {"data": {"values": [{}]}, "mark": {"type": "rect", "fill": "white"},
   "encoding": {"x": {"datum": -90, "type": "quantitative"}, "x2": {"datum": 0}, "y": {"datum": 0.6, "type": "quantitative"}, "y2": {"datum": 1.1}}},
  {"data": {"name": "y4"}, "mark": {"type": "rule"},
   "encoding": {"y": {"field": "g", "type": "quantitative"}, "x": {"datum": -90, "type": "quantitative"}, "x2": {"datum": 0}}},
  {"data": {"name": "p7"}, "mark": {"type": "area", "fill": "#006494", "fillOpacity": 0.16},
   "encoding": {
    "x": {"field": "t", "type": "quantitative", "scale": {"domain": [-124.2857, 4.2857], "nice": false, "zero": false},
          "axis": {"title": null, "zindex": 1, "labelOverlap": false, "labelFlush": false, "labelOffset": -4, "values": [-90, -78.41, -66.82, -55.23, -43.64, -32.05, -20.46, -8.87], "labelExpr": "utcFormat(utc(2014,3,11,5,5)+datum.value*86400000,'%b')"}},
    "y": {"field": "v", "type": "quantitative", "scale": {"domain": [0.450746, 1.197015], "nice": false, "zero": false},
          "axis": {"title": null, "zindex": 1, "labels": false, "values": [0.6, 0.7, 0.8, 0.9, 1.0, 1.1]}},
    "y2": {"datum": 0.6}}},
  {"data": {"name": "p7"}, "mark": {"type": "line", "stroke": "#006494", "strokeWidth": 1},
   "encoding": {"x": {"field": "t", "type": "quantitative"}, "y": {"field": "v", "type": "quantitative"}}},
  {"data": {"values": [{}]}, "mark": {"type": "rule", "stroke": "black"},
   "encoding": {"x": {"datum": -90, "type": "quantitative"}, "y": {"datum": 0.6, "type": "quantitative"}, "y2": {"datum": 1.1}}},
  {"data": {"values": [{}]}, "mark": {"type": "rule", "stroke": "black"},
   "encoding": {"y": {"datum": 0.6, "type": "quantitative"}, "x": {"datum": -90, "type": "quantitative"}, "x2": {"datum": 0}}},
  {"data": {"name": "m4"}, "mark": {"type": "tick"},
   "encoding": {"y": {"field": "m", "type": "quantitative"}, "x": {"datum": -90, "type": "quantitative"}}},
  {"data": {"name": "y4"}, "mark": {"type": "text"},
   "encoding": {"y": {"field": "g", "type": "quantitative"}, "x": {"datum": -90, "type": "quantitative"}, "text": {"field": "g", "type": "quantitative", "format": ".2f"}}}
 ]
},
{
 "title": {"text": "180 days"},
 "width": 300, "height": 200,
 "layer": [
  {"data": {"values": [{}]}, "mark": {"type": "rect", "fill": "white"},
   "encoding": {"x": {"datum": -165.9, "type": "quantitative"}, "x2": {"datum": 0}, "y": {"datum": 0.4, "type": "quantitative"}, "y2": {"datum": 1.2}}},
  {"data": {"name": "y5"}, "mark": {"type": "rule"},
   "encoding": {"y": {"field": "g", "type": "quantitative"}, "x": {"datum": -165.9, "type": "quantitative"}, "x2": {"datum": 0}}},
  {"data": {"name": "p8"}, "mark": {"type": "area", "fill": "#006494", "fillOpacity": 0.16},
   "encoding": {
    "x": {"field": "t", "type": "quantitative", "scale": {"domain": [-229.1, 7.9], "nice": false, "zero": false},
          "axis": {"title": null, "zindex": 1, "labelOverlap": false, "labelFlush": false, "labelOffset": -4, "values": [-165.9, -142.84, -119.78, -96.72, -73.66, -50.6, -27.54, -4.48], "labelExpr": "utcFormat(utc(2014,3,11,5,5)+datum.value*86400000,'%b')"}},
    "y": {"field": "v", "type": "quantitative", "scale": {"domain": [0.161194, 1.355224], "nice": false, "zero": false},
          "axis": {"title": null, "zindex": 1, "labels": false, "values": [0.4, 0.6, 0.8, 1.0, 1.2]}},
    "y2": {"datum": 0.4}}},
  {"data": {"name": "p8"}, "mark": {"type": "line", "stroke": "#006494", "strokeWidth": 1},
   "encoding": {"x": {"field": "t", "type": "quantitative"}, "y": {"field": "v", "type": "quantitative"}}},
  {"data": {"values": [{}]}, "mark": {"type": "rule", "stroke": "black"},
   "encoding": {"x": {"datum": -165.9, "type": "quantitative"}, "y": {"datum": 0.4, "type": "quantitative"}, "y2": {"datum": 1.2}}},
  {"data": {"values": [{}]}, "mark": {"type": "rule", "stroke": "black"},
   "encoding": {"y": {"datum": 0.4, "type": "quantitative"}, "x": {"datum": -165.9, "type": "quantitative"}, "x2": {"datum": 0}}},
  {"data": {"name": "m5"}, "mark": {"type": "tick"},
   "encoding": {"y": {"field": "m", "type": "quantitative"}, "x": {"datum": -165.9, "type": "quantitative"}}},
  {"data": {"name": "y5"}, "mark": {"type": "text"},
   "encoding": {"y": {"field": "g", "type": "quantitative"}, "x": {"datum": -165.9, "type": "quantitative"}, "text": {"field": "g", "type": "quantitative", "format": ".1f"}}}
 ]
},
{
 "title": {"text": "360 days"},
 "width": 300, "height": 200,
 "layer": [
  {"data": {"values": [{}]}, "mark": {"type": "rect", "fill": "white"},
   "encoding": {"x": {"datum": -165.9, "type": "quantitative"}, "x2": {"datum": 0}, "y": {"datum": 0.4, "type": "quantitative"}, "y2": {"datum": 1.2}}},
  {"data": {"name": "y5"}, "mark": {"type": "rule"},
   "encoding": {"y": {"field": "g", "type": "quantitative"}, "x": {"datum": -165.9, "type": "quantitative"}, "x2": {"datum": 0}}},
  {"data": {"name": "p8"}, "mark": {"type": "area", "fill": "#006494", "fillOpacity": 0.16},
   "encoding": {
    "x": {"field": "t", "type": "quantitative", "scale": {"domain": [-229.1, 7.9], "nice": false, "zero": false},
          "axis": {"title": null, "zindex": 1, "labelOverlap": false, "labelFlush": false, "labelOffset": -4, "values": [-165.9, -142.84, -119.78, -96.72, -73.66, -50.6, -27.54, -4.48], "labelExpr": "utcFormat(utc(2014,3,11,5,5)+datum.value*86400000,'%b')"}},
    "y": {"field": "v", "type": "quantitative", "scale": {"domain": [0.161194, 1.355224], "nice": false, "zero": false},
          "axis": {"title": null, "zindex": 1, "labels": false, "values": [0.4, 0.6, 0.8, 1.0, 1.2]}},
    "y2": {"datum": 0.4}}},
  {"data": {"name": "p8"}, "mark": {"type": "line", "stroke": "#006494", "strokeWidth": 1},
   "encoding": {"x": {"field": "t", "type": "quantitative"}, "y": {"field": "v", "type": "quantitative"}}},
  {"data": {"values": [{}]}, "mark": {"type": "rule", "stroke": "black"},
   "encoding": {"x": {"datum": -165.9, "type": "quantitative"}, "y": {"datum": 0.4, "type": "quantitative"}, "y2": {"datum": 1.2}}},
  {"data": {"values": [{}]}, "mark": {"type": "rule", "stroke": "black"},
   "encoding": {"y": {"datum": 0.4, "type": "quantitative"}, "x": {"datum": -165.9, "type": "quantitative"}, "x2": {"datum": 0}}},
  {"data": {"name": "m5"}, "mark": {"type": "tick"},
   "encoding": {"y": {"field": "m", "type": "quantitative"}, "x": {"datum": -165.9, "type": "quantitative"}}},
  {"data": {"name": "y5"}, "mark": {"type": "text"},
   "encoding": {"y": {"field": "g", "type": "quantitative"}, "x": {"datum": -165.9, "type": "quantitative"}, "text": {"field": "g", "type": "quantitative", "format": ".1f"}}}
 ]
}
]
}
